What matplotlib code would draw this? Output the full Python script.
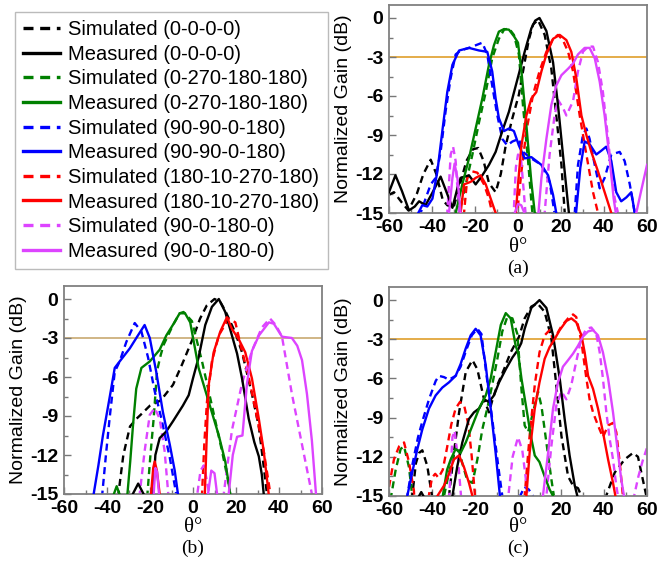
import numpy as np
import matplotlib.pyplot as plt
from matplotlib.lines import Line2D
from matplotlib.ticker import MultipleLocator

plt.rcParams['font.family'] = ['Liberation Sans', 'DejaVu Sans']
plt.rcParams['axes.unicode_minus'] = False

# ---- data: (theta deg, normalized gain dB); values below -15 are off the axis ----
labels = ['(0-0-0-0)', '(0-270-180-180)', '(90-90-0-180)', '(180-10-270-180)', '(90-0-180-0)']
colors = ['black', '#008000', '#0000FF', '#FF0000', '#DD44FF']

# panel (a)
A_SIM_K = [(-60, -13.6), (-57.7, -13.4), (-54, -14.2), (-51, -14.8), (-47, -13.5), (-44, -12), (-40.6, -10.9), (-38, -12), (-35, -14), (-32.9, -14.4), (-30, -14.6), (-27, -12.8), (-24, -11), (-21, -10.1), (-18.5, -10), (-16, -11), (-13.5, -12.7), (-10.4, -13.4), (-8, -12), (-5.7, -9.8), (-2.6, -7.7), (0.4, -5.9), (3.1, -3.4), (5, -1.7), (7, -0.5), (9.3, -0.15), (12.4, -1.3), (15.5, -3.9), (17.8, -7.5), (20.2, -11.3), (21.7, -14.9), (23, -18)]
A_MEAS_K = [(-60, -13.4), (-57, -12.1), (-54, -13.3), (-50.7, -14.8), (-48, -14.5), (-46, -14.1), (-43, -14.4), (-40, -13.5), (-36, -12.2), (-33, -13.5), (-30.5, -14.6), (-28.5, -13.3), (-26.7, -12.3), (-22.8, -12.1), (-19.7, -12.8), (-16.6, -12.1), (-13.5, -11.3), (-10.4, -10.3), (-7.3, -8.7), (-4.2, -7.2), (-2, -5.8), (0.4, -4.3), (3.1, -2.6), (6.2, -0.8), (8, -0.2), (10, 0), (13.2, -1), (16.3, -3.4), (18.6, -6.7), (20.9, -10.5), (23.3, -14.4), (24, -15.5), (25, -18)]
A_SIM_G = [(-29, -18), (-27.4, -15), (-24.3, -12.8), (-21.2, -10.5), (-18.1, -8), (-15, -5.7), (-12, -3.1), (-8.9, -1.6), (-6.5, -0.9), (-4.2, -0.8), (-1.9, -1.3), (0.4, -2.8), (2.3, -6.7), (4.7, -11), (6.2, -14.1), (7, -15.5), (8, -18)]
A_MEAS_G = [(-31, -18), (-29, -15), (-25.9, -12.8), (-22.8, -10.8), (-19.7, -8.5), (-16.6, -6.2), (-13.5, -3.6), (-11.2, -2.1), (-8.9, -1.05), (-6.5, -0.85), (-4.2, -0.9), (-1.9, -1.4), (0, -1.9), (1.6, -4.1), (3.1, -6.7), (4.7, -9.8), (6.2, -12.6), (7.8, -15), (9, -18)]
A_SIM_B = [(-47, -18), (-45.3, -15), (-43, -13.9), (-40.6, -12.8), (-38.3, -12.3), (-36, -10.3), (-33.7, -7.2), (-31.3, -4.6), (-29, -2.8), (-26.7, -2.5), (-22.8, -2.3), (-19.7, -2.1), (-16.6, -1.9), (-14.3, -2.8), (-12, -5.2), (-9.6, -7.5), (-7.3, -9.3), (-5, -9.8), (-2.6, -9.5), (0.4, -9.3), (2.3, -10.3), (6.2, -10.8), (10.9, -11.3), (14.7, -12.6), (17, -15), (18, -18), (25, -18), (26.4, -15), (27.9, -11.3), (30.2, -9), (31.8, -8.5), (33.3, -9.3), (35.7, -11.3), (38, -13.1), (40.3, -12.3), (43.4, -10.5), (47.3, -10.3), (49.6, -11), (52, -12.8), (54.2, -14.9), (55, -18)]
A_MEAS_B = [(-48, -18), (-46.4, -15), (-44.5, -14.4), (-42.2, -14.5), (-39.8, -13.9), (-37.5, -11.8), (-35.2, -8.7), (-32.9, -5.7), (-30.5, -3.6), (-27.4, -2.5), (-22.8, -2.3), (-18.1, -2.5), (-14.3, -2.6), (-12, -4.1), (-10.4, -6.2), (-8.9, -7.7), (-6.5, -8.7), (-4.2, -8.5), (-1.9, -8.7), (0.4, -9.8), (3.1, -10.8), (6.2, -10.7), (10.9, -11.3), (14, -12.1), (16.3, -13.6), (17.8, -15), (19, -18), (25.5, -18), (27, -15), (29, -11.5), (31, -9.5), (33.3, -9.7), (36.4, -10.5), (38.8, -10.2), (41, -9.9), (43.4, -11), (45.7, -13.4), (48, -14.1), (50.4, -13.8), (52.7, -13.4), (54.2, -14.9), (55, -18)]
A_SIM_R = [(-26, -18), (-25.1, -15), (-23.6, -12.3), (-21.2, -11.8), (-18.9, -11.9), (-15.8, -12.8), (-13.5, -13.9), (-12, -15), (-11, -18), (-1, -18), (0, -14.4), (1.6, -11.8), (3.9, -8.7), (7, -5.9), (10, -4.1), (13.2, -2.6), (16.3, -1.6), (18.6, -1.3), (20.9, -1.7), (23.3, -2.6), (25.6, -4.1), (28.7, -7.5), (31.8, -10.5), (34.9, -13.4), (37.2, -15), (38, -18)]
A_MEAS_R = [(-28, -18), (-26.7, -15), (-25.1, -12.8), (-22, -12.6), (-19.7, -12.3), (-17.4, -12.1), (-15, -12.8), (-12.7, -13.9), (-10.4, -15), (-9.5, -18), (-2, -18), (-1, -15), (0, -12.8), (1.6, -9.8), (3.9, -7.5), (6.2, -6.2), (8.5, -5.7), (10.9, -4.1), (13.2, -2.8), (16.3, -1.6), (19.4, -1.3), (22.5, -1.7), (24.8, -2.6), (27.1, -4.6), (29.5, -7.5), (31.8, -9), (34.1, -10.3), (37.2, -11.8), (40.3, -13.4), (43.4, -15), (44, -18)]
A_SIM_M = [(-34, -18), (-32.9, -15), (-31.3, -10.5), (-30.2, -9.9), (-29, -11), (-27.4, -15), (-26.5, -18), (-3, -18), (-2, -15), (-1, -11.5), (0, -10.5), (1.5, -11), (2.5, -13), (3.5, -15), (4.5, -18), (11.5, -18), (12.4, -15), (14.7, -10.5), (17, -7.5), (18.6, -6.3), (20.9, -6.9), (22.5, -7.5), (25.6, -6.4), (27.9, -4.1), (30.2, -2.6), (32.6, -2.2), (34.9, -2.2), (37.2, -3.4), (39.5, -5.7), (41.9, -9.3), (43.4, -11.8), (45, -13.9), (46.5, -15), (47.5, -18)]
A_MEAS_M = [(-33, -18), (-32.1, -15), (-30.5, -12.3), (-29.5, -11.2), (-28.2, -12.3), (-26.7, -15), (-26, -18), (-2.5, -18), (-1.5, -15), (0, -14.3), (1.5, -14.4), (3, -15), (4, -18), (8.5, -18), (9.5, -15), (10.9, -12.3), (13.2, -9.3), (15.5, -6.7), (17.8, -5.2), (20.2, -4.4), (23.3, -3.9), (25.6, -3.5), (27.9, -2.8), (31, -2.3), (33.3, -2.3), (35.7, -3.1), (38, -4.9), (40.3, -7.5), (42.6, -10.8), (44.5, -13.9), (45.5, -15), (46.5, -18), (54, -18), (55, -15), (57, -13.5), (60, -11.3)]

# panel (b)
B_SIM_K = [(-36, -18), (-34.7, -15), (-32.4, -12), (-29.3, -9.8), (-26.2, -9.2), (-24.3, -8.9), (-20, -8.2), (-15, -7.8), (-9.3, -6.6), (-5, -5), (0, -3), (3.3, -1.5), (6.4, -0.5), (10, 0), (12.6, -0.2), (15, -0.9), (19.7, -2.6), (22.8, -4.1), (27.4, -7.3), (30.6, -9.8), (32.9, -12.9), (34.4, -15), (35.5, -18)]
B_MEAS_K = [(-29, -18), (-28, -15), (-25.5, -14.2), (-23, -15), (-22, -18), (-19.5, -18), (-18.6, -15), (-17.5, -12), (-15.5, -10.7), (-12.5, -10.2), (-9.3, -9.4), (-4.7, -8.2), (-2, -7.4), (0, -6.1), (2.6, -4.5), (5.7, -2), (8.8, -0.6), (12, 0), (15, -1), (18.1, -2.8), (20.5, -4.2), (22.8, -6.1), (25.9, -9.2), (28.5, -11), (30.6, -12.1), (32, -13.5), (32.9, -15), (34, -18)]
B_SIM_G = [(-22.5, -18), (-21.2, -15), (-19.8, -12), (-18.3, -9.2), (-16.7, -5.5), (-15, -4.3), (-13.6, -3.5), (-9.3, -2), (-6.2, -1.1), (-4.4, -1.0), (-0.5, -1.7), (4.2, -4.8), (8.8, -8.2), (13.5, -11.7), (16.6, -14.2), (17.3, -15), (18, -18)]
B_MEAS_G = [(-37.5, -18), (-36.8, -15), (-35.5, -14.4), (-34.2, -15), (-33.5, -18), (-31.5, -18), (-30.5, -15), (-29.2, -12.5), (-27.9, -9.7), (-26.4, -6.9), (-24, -5.3), (-20.1, -4.8), (-15.5, -3.9), (-12.4, -2.8), (-9, -1.9), (-6.2, -1.1), (-3.7, -1.1), (-1.3, -1.8), (2.6, -5.3), (7.3, -7.9), (12, -10.5), (15, -12.5), (16.6, -14.2), (17.3, -15), (18, -18)]
B_SIM_B = [(-43.5, -18), (-42.2, -15), (-40.5, -12), (-38.8, -9.2), (-36.4, -5.6), (-34.1, -4.8), (-31, -3.3), (-27.1, -1.85), (-24, -2.5), (-20.9, -4.5), (-17.8, -7.1), (-14.7, -9.2), (-10.8, -12.2), (-7.8, -15), (-7, -18)]
B_MEAS_B = [(-47.5, -18), (-46.2, -15), (-44, -12.8), (-41.9, -10.5), (-38.8, -7.6), (-36.4, -5.3), (-34.1, -4.8), (-29.4, -3.8), (-25.6, -2.8), (-22.5, -2.0), (-20.1, -3), (-17.1, -5.6), (-14, -8.7), (-10.8, -11.2), (-8.5, -13.2), (-7, -15), (-6, -18)]
B_SIM_R = [(3.5, -18), (4.2, -15), (5.3, -11), (6.5, -7.9), (8.8, -4.8), (12, -2.8), (16.6, -1.5), (19.7, -1.8), (22.8, -4), (25.9, -6), (29, -8.5), (32.9, -11.7), (36, -15), (37, -18)]
B_MEAS_R = [(-20.5, -18), (-19.5, -15), (-18.5, -13), (-17.8, -12.5), (-16.8, -13.2), (-15.5, -15), (-14.5, -18), (4.5, -18), (5.5, -15), (6.3, -11), (7.3, -6.6), (9.6, -4.1), (12.7, -2.5), (15.8, -1.4), (18.1, -2.3), (21.3, -3.1), (24.3, -4.1), (27.4, -6.1), (30.6, -9.2), (32.9, -11.7), (35.2, -15), (36, -18)]
B_SIM_M = [(-26, -18), (-24.8, -15), (-22.5, -11.7), (-20.1, -8.9), (-17.8, -8.4), (-15.5, -9.2), (-13.2, -11.7), (-11.5, -15), (-10.5, -18), (1, -18), (2, -15), (3.5, -13.2), (5, -12.8), (6.5, -14), (7.5, -15), (8.5, -18), (13.5, -18), (14.3, -15), (18.1, -10.1), (22.8, -6.5), (27.4, -4), (32, -2.2), (35.8, -1.5), (38.5, -2), (41.4, -2.9), (46, -7.3), (50.7, -11.2), (55.3, -15), (56, -18)]
B_MEAS_M = [(-19, -18), (-18.3, -15), (-17.5, -13), (-16.7, -13.3), (-15.8, -15), (-15, -18), (6, -18), (7, -15), (8.5, -13.2), (10, -13.4), (11.2, -15), (12, -18), (16, -18), (16.6, -15), (18.5, -12), (20.5, -10.6), (23, -10.5), (25.1, -6.5), (27.4, -4), (30.7, -2.8), (35.3, -1.8), (37.6, -1.9), (41.4, -2.9), (46, -3), (48.5, -3.6), (50.7, -4.7), (53, -7.3), (55.3, -10.9), (57.2, -15), (58, -18)]

# panel (c)
C_SIM_K = [(-50.5, -18), (-49.2, -15), (-47.5, -12.5), (-46, -11.7), (-44.5, -11.5), (-42.2, -12.7), (-40, -15), (-39, -18), (-33, -18), (-32.1, -15), (-29.8, -11.7), (-27.4, -8.6), (-24.3, -5.5), (-21.2, -4.6), (-18.9, -5.3), (-15.8, -7.6), (-13.5, -8.6), (-12, -7.7), (-9.6, -6.5), (-6.5, -5.3), (-3.4, -4), (-1.1, -3.3), (0.5, -2.8), (3.1, -1.4), (6.2, -0.5), (9, -0.25), (12.4, -0.9), (15.5, -2.9), (17.8, -6.5), (20.2, -10.4), (23.3, -13.5), (25.6, -14.2), (27.9, -14.4), (29.5, -15), (30.5, -18), (40, -18), (41, -15), (45, -13.2), (49.6, -12.2), (53.5, -11.7), (55.8, -12), (58, -13.7), (59.7, -15), (60.5, -18)]
C_MEAS_K = [(-47, -18), (-46, -15), (-45, -14.7), (-44, -15), (-43, -18), (-32, -18), (-30.5, -15), (-28.2, -12.7), (-25.9, -10.9), (-22.8, -9.1), (-20.5, -8.6), (-18.1, -8.3), (-15.8, -7.6), (-13.5, -7.8), (-11.2, -7.3), (-8.8, -6.3), (-5.7, -5.3), (-2.6, -4.4), (0, -3.8), (1.5, -3.3), (3.1, -2.2), (6.2, -0.6), (10, 0), (13.2, -0.6), (16.3, -2.7), (19.4, -6), (21.7, -9.1), (24, -11.9), (26.4, -14.2), (27.6, -15), (28.5, -18)]
C_SIM_G = [(-61, -18), (-59, -15), (-56.9, -13), (-54.6, -11.4), (-53, -11.2), (-50.7, -12.8), (-49.2, -15), (-48, -18), (-35.5, -18), (-34.4, -15), (-32.1, -13.2), (-29.8, -11.7), (-27.4, -11.5), (-25.9, -12.5), (-23.6, -13.8), (-21.2, -14), (-18.9, -12.2), (-16.6, -9.9), (-14.3, -8.3), (-12, -6.5), (-9.6, -4.5), (-7.3, -2.4), (-5, -1.3), (-2.6, -1.4), (-0.3, -2.6), (1.6, -6.8), (3.1, -9.6), (4.7, -10.1), (7, -8.6), (9.3, -7), (10.9, -8.1), (13.2, -10.9), (15.5, -13.7), (16.7, -15), (17.5, -18)]
C_MEAS_G = [(-36, -18), (-35, -15), (-33, -13), (-31.3, -12.2), (-29, -11.4), (-26.7, -11.7), (-24.3, -10.9), (-21.2, -9.6), (-18.1, -8.3), (-15, -7.3), (-12.7, -6), (-10.4, -4), (-8, -1.9), (-5.7, -1), (-3.4, -1.4), (-1.1, -3.5), (0, -4), (1.6, -6), (3.9, -8.3), (6.2, -10.6), (7.8, -11.9), (10, -12.4), (12.4, -13.5), (14.7, -14.5), (16.3, -15), (17, -18)]
C_SIM_B = [(-53, -18), (-51.5, -15), (-49, -12.5), (-46.5, -10.5), (-44.5, -9.3), (-41.4, -7.6), (-38.3, -6.2), (-36.8, -5.8), (-34.4, -5.9), (-32.1, -6.1), (-29, -5.8), (-26.7, -5.1), (-24, -3.8), (-21.5, -2.7), (-18.9, -2.2), (-17, -2.6), (-15, -5.3), (-12, -9.1), (-8.8, -13.2), (-7.3, -15), (-6.5, -18), (0, -18), (1, -15), (3, -14.3), (5, -14.5), (7, -15), (8, -18)]
C_MEAS_B = [(-53, -18), (-51.5, -15), (-49.2, -13.2), (-46.8, -11.4), (-44.5, -9.9), (-41.4, -8.3), (-38.3, -7.3), (-35.2, -6.7), (-32.1, -6.3), (-29, -5.8), (-26.7, -4.9), (-24.3, -3.7), (-22, -2.7), (-19.7, -2.2), (-17.4, -2.7), (-15, -5), (-12.7, -8.3), (-10.4, -11.7), (-8.4, -15), (-7.5, -18)]
C_SIM_R = [(-60, -14.3), (-57.7, -12.2), (-55.3, -11.2), (-53, -10.9), (-50.7, -12.4), (-48.4, -14.6), (-47.5, -18), (-42.5, -18), (-41.5, -15), (-40, -13.6), (-38.5, -13.3), (-37, -13.6), (-35, -13), (-33, -11.3), (-31, -9.5), (-29, -8.3), (-27, -7.8), (-25, -8.1), (-23, -9.6), (-21.5, -12), (-20, -15), (-19, -18), (2.5, -18), (3.1, -15), (5.4, -10.4), (7.8, -6.5), (10, -4), (12.4, -2.7), (14.7, -2.3), (16.3, -3), (17.8, -2.7), (20.2, -2), (23.3, -1.4), (25.6, -1.1), (27.1, -1.3), (29.5, -3.2), (31.8, -6), (33.3, -7.6), (34.9, -8.6), (37.2, -9.6), (39.5, -10.5), (41.9, -9.6), (44.2, -9.4), (45.7, -10.1), (47.3, -12.4), (48.8, -15), (49.5, -18)]
C_MEAS_R = [(-38.5, -18), (-37.5, -15), (-34.4, -14.2), (-32.1, -13.3), (-29.8, -12.2), (-27.4, -11.9), (-25.1, -12.8), (-22.8, -14), (-21.2, -15), (-20.5, -18), (3, -18), (3.9, -15), (5.4, -11.7), (7.8, -8.3), (10, -6.3), (12.4, -4.5), (14.7, -3.6), (17, -3), (19.4, -2.3), (22.5, -1.6), (24.8, -1.4), (27.1, -1.7), (29.5, -2.7), (31, -4), (32.6, -5.8), (34.9, -6.8), (37.2, -8.3), (39.5, -10.1), (41.9, -12.2), (44.2, -14), (45.3, -15), (46, -18)]
C_SIM_M = [(-33, -18), (-32, -15), (-30.5, -10.5), (-29.5, -10), (-28, -12), (-26.5, -15), (-25.5, -18), (-5.5, -18), (-4.5, -15), (-2.5, -12), (0, -10.5), (2, -11.5), (3.5, -13.5), (4.5, -15), (5.5, -18), (12.5, -18), (13.2, -15), (15.5, -11.2), (17.8, -8.1), (20.2, -7), (22.5, -7.6), (24.8, -6.5), (27.1, -4.7), (29.5, -2.9), (31.8, -2.2), (34.1, -2.1), (36.4, -2.6), (38, -4), (39.5, -6), (41.1, -8.6), (42.6, -10.6), (44.2, -12.2), (45.7, -14.2), (46.5, -15), (47.5, -18), (53, -18), (54, -15), (56, -13.5), (58, -12.3), (60, -11.3)]
C_MEAS_M = [(10.5, -18), (11.6, -15), (14, -11.7), (16.3, -8.3), (18.6, -6.3), (20.9, -5.1), (23.3, -4.6), (25.6, -4.1), (27.9, -3.5), (30.2, -2.8), (32.6, -2.4), (34.9, -2.3), (37.2, -2.7), (39.5, -4), (41.9, -6), (44.2, -8.6), (46.5, -11.7), (48, -13.7), (49.3, -15), (50, -18)]

panel_a = [(A_SIM_K, A_MEAS_K), (A_SIM_G, A_MEAS_G), (A_SIM_B, A_MEAS_B), (A_SIM_R, A_MEAS_R), (A_SIM_M, A_MEAS_M)]
panel_b = [(B_SIM_K, B_MEAS_K), (B_SIM_G, B_MEAS_G), (B_SIM_B, B_MEAS_B), (B_SIM_R, B_MEAS_R), (B_SIM_M, B_MEAS_M)]
panel_c = [(C_SIM_K, C_MEAS_K), (C_SIM_G, C_MEAS_G), (C_SIM_B, C_MEAS_B), (C_SIM_R, C_MEAS_R), (C_SIM_M, C_MEAS_M)]

W, H = 672, 566
fig = plt.figure(figsize=(W / 100, H / 100), dpi=100)


def px_axes(x0, y0, x1, y1):
    return fig.add_axes([x0 / W, 1 - y1 / H, (x1 - x0) / W, (y1 - y0) / H])


def draw_panel(ax, curves, ref_color, tag, lab_y, tag_y):
    ax.axhline(-3, color=ref_color, lw=1.3, zorder=1)
    for (sim, meas), c in zip(curves, colors):
        xs, ys = np.array(sim).T
        ax.plot(xs, ys, color=c, lw=1.7, ls=(0, (3, 2)), zorder=2)
        xm, ym = np.array(meas).T
        ax.plot(xm, ym, color=c, lw=1.7, zorder=3)
    ax.set_xlim(-60, 60)
    ax.set_ylim(-15, 1)
    ax.xaxis.set_major_locator(MultipleLocator(20))
    ax.xaxis.set_minor_locator(MultipleLocator(10))
    ax.yaxis.set_major_locator(MultipleLocator(3))
    ax.yaxis.set_minor_locator(MultipleLocator(1.5))
    ax.tick_params(which='both', direction='in', color='#777777', top=False, right=False)
    ax.tick_params(which='major', length=5, width=1, labelsize=14, pad=4)
    ax.tick_params(which='minor', length=3, width=1)
    for lbl in ax.get_xticklabels() + ax.get_yticklabels():
        lbl.set_fontweight('bold')
    for s in ax.spines.values():
        s.set_color('#808080')
        s.set_linewidth(1.3)
    ax.set_ylabel('Normalized Gain (dB)', fontsize=14, labelpad=2)
    pos = ax.get_position()
    xc = pos.x0 + pos.width / 2
    fig.text(xc, 1 - lab_y / H, 'θ°', ha='center', va='center', fontsize=15, family='Liberation Serif')
    fig.text(xc, 1 - tag_y / H, tag, ha='center', va='center', fontsize=14, family='Liberation Serif')


ax_a = px_axes(389, 5, 647, 213)
draw_panel(ax_a, panel_a, '#E2A63A', '(a)', 247, 268)
ax_b = px_axes(64, 286, 322, 494)
draw_panel(ax_b, panel_b, '#CDB07C', '(b)', 528, 548)
ax_c = px_axes(389, 287, 647, 496)
draw_panel(ax_c, panel_c, '#E2A63A', '(c)', 528, 548)

handles = []
names = []
for lab, c in zip(labels, colors):
    handles.append(Line2D([], [], color=c, lw=2.4, ls=(0, (3, 2))))
    names.append('Simulated ' + lab)
    handles.append(Line2D([], [], color=c, lw=2.4))
    names.append('Measured ' + lab)

leg = fig.legend(handles, names, loc='upper left', bbox_to_anchor=(15 / W, 1 - 12 / H),
                 fontsize=14.5, frameon=True, fancybox=False, edgecolor='#AAAAAA',
                 handlelength=1.85, handletextpad=0.4, labelspacing=0.28,
                 borderpad=0.4, borderaxespad=0)
leg.get_frame().set_linewidth(1.0)

fig.savefig('out.png', dpi=100)
